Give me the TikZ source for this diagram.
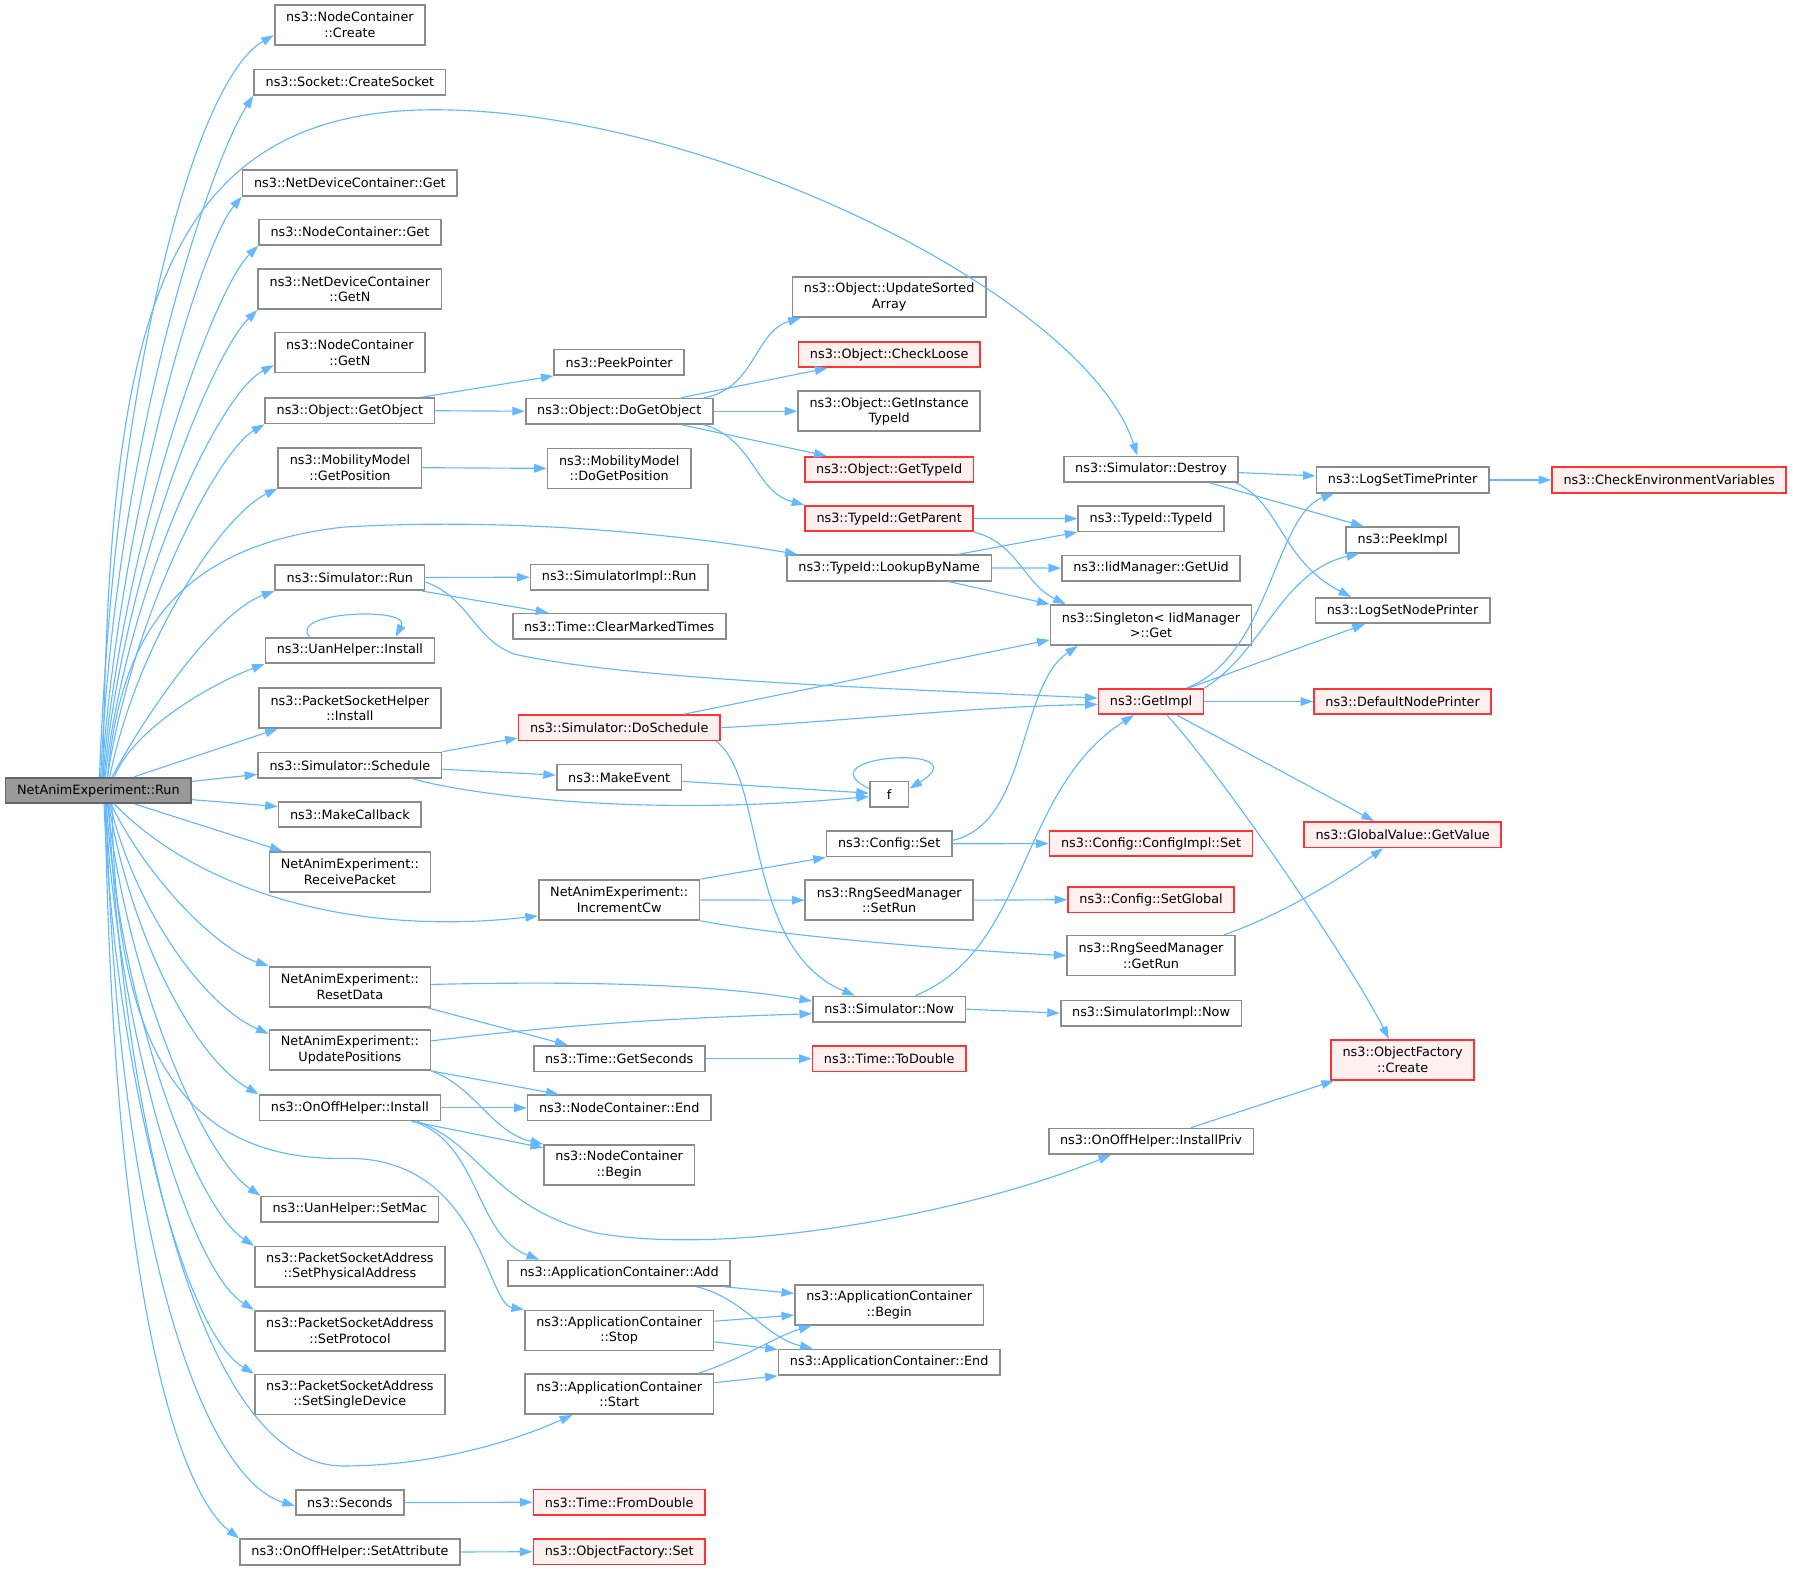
\documentclass[tikz,border=0pt]{standalone}
\usepackage{fontspec}
\setmainfont{DejaVu Sans}
\usetikzlibrary{arrows.meta}
\definecolor{edgeblue}{HTML}{63B8FF}
\definecolor{boxgray}{HTML}{8C8C8C}
\definecolor{rootgray}{HTML}{999999}
\definecolor{rootedge}{HTML}{666666}
\definecolor{missred}{HTML}{FF3333}
\definecolor{misspink}{HTML}{FFF0F0}
\begin{document}
\begin{tikzpicture}[x=1pt, y=-1pt,
        fn/.style={draw=boxgray, fill=white, line width=1.45pt, font=\fontsize{11.2}{13.5}\selectfont,
            inner xsep=10pt, inner ysep=0pt, minimum height=22.3pt, align=center},
        two/.style={minimum height=35pt},
        miss/.style={draw=missred, fill=misspink},
        root/.style={draw=rootedge, fill=rootgray},
        call/.style={draw=edgeblue, line width=1pt, -{Triangle[length=11pt, width=7.5pt]}}]
        \useasboundingbox (0,0) rectangle (1568,1373);
        \node[fn, root] (run) at (86,691.3) {NetAnimExperiment::Run};
        \node[fn, two] (create) at (306,21.8) {ns3::NodeContainer\\::Create};
        \node[fn] (socket) at (306,71.8) {ns3::Socket::CreateSocket};
        \node[fn] (ndcget) at (306,160) {ns3::NetDeviceContainer::Get};
        \node[fn] (ncget) at (306,203) {ns3::NodeContainer::Get};
        \node[fn, two] (ndcgetn) at (306,252.9) {ns3::NetDeviceContainer\\::GetN};
        \node[fn, two] (ncgetn) at (306,308.3) {ns3::NodeContainer\\::GetN};
        \node[fn] (getobject) at (306,359.2) {ns3::Object::GetObject};
        \node[fn, two] (getpos) at (306,409) {ns3::MobilityModel\\::GetPosition};
        \node[fn] (simrun) at (306,505) {ns3::Simulator::Run};
        \node[fn] (uaninst) at (306,568.8) {ns3::UanHelper::Install};
        \node[fn, two] (psinst) at (306,619.1) {ns3::PacketSocketHelper\\::Install};
        \node[fn] (schedule) at (306,669.2) {ns3::Simulator::Schedule};
        \node[fn] (makecb) at (306,712.3) {ns3::MakeCallback};
        \node[fn, two] (recv) at (306,762.5) {NetAnimExperiment::\\ReceivePacket};
        \node[fn, two] (reset) at (306,862.9) {NetAnimExperiment::\\ResetData};
        \node[fn, two] (update) at (306,918.3) {NetAnimExperiment::\\UpdatePositions};
        \node[fn] (onoffinst) at (306,968.8) {ns3::OnOffHelper::Install};
        \node[fn] (setmac) at (306,1057.5) {ns3::UanHelper::SetMac};
        \node[fn, two] (setphys) at (306,1107.7) {ns3::PacketSocketAddress\\::SetPhysicalAddress};
        \node[fn, two] (setproto) at (306,1163.7) {ns3::PacketSocketAddress\\::SetProtocol};
        \node[fn, two] (setsingle) at (306,1219.4) {ns3::PacketSocketAddress\\::SetSingleDevice};
        \node[fn] (seconds) at (306,1314) {ns3::Seconds};
        \node[fn] (setattr) at (306,1357.2) {ns3::OnOffHelper::SetAttribute};
        \node[fn] (peekptr) at (541.5,316.9) {ns3::PeekPointer};
        \node[fn] (dogetobj) at (541.5,359.6) {ns3::Object::DoGetObject};
        \node[fn, two] (dogetpos) at (541.5,409.6) {ns3::MobilityModel\\::DoGetPosition};
        \node[fn] (simimplrun) at (541.5,504.8) {ns3::SimulatorImpl::Run};
        \node[fn] (clearmarked) at (541.5,547.7) {ns3::Time::ClearMarkedTimes};
        \node[fn, miss] (doschedule) at (541.5,636.4) {ns3::Simulator::DoSchedule};
        \node[fn] (makeevent) at (541.5,679.8) {ns3::MakeEvent};
        \node[fn, two] (incrcw) at (541.5,787) {NetAnimExperiment::\\IncrementCw};
        \node[fn] (getseconds) at (541.5,925.8) {ns3::Time::GetSeconds};
        \node[fn] (ncend) at (541.5,968.8) {ns3::NodeContainer::End};
        \node[fn, two] (ncbegin) at (541.5,1018.9) {ns3::NodeContainer\\::Begin};
        \node[fn] (acadd) at (541.5,1113.4) {ns3::ApplicationContainer::Add};
        \node[fn, two] (acstop) at (541.5,1163.4) {ns3::ApplicationContainer\\::Stop};
        \node[fn, two] (acstart) at (541.5,1219.2) {ns3::ApplicationContainer\\::Start};
        \node[fn, miss] (fromdouble) at (541.5,1313.7) {ns3::Time::FromDouble};
        \node[fn, miss] (ofset) at (541.5,1357) {ns3::ObjectFactory::Set};
        \node[fn, two] (updsorted) at (777.6,259.7) {ns3::Object::UpdateSorted\\Array};
        \node[fn, miss] (checkloose) at (777.6,310) {ns3::Object::CheckLoose};
        \node[fn, two] (getinsttid) at (777.6,359.6) {ns3::Object::GetInstance\\TypeId};
        \node[fn, miss] (gettypeid) at (777.6,410.6) {ns3::Object::GetTypeId};
        \node[fn, miss] (getparent) at (777.6,453.4) {ns3::TypeId::GetParent};
        \node[fn] (lookup) at (777.6,496.7) {ns3::TypeId::LookupByName};
        \node[fn, minimum width=34pt] (f) at (777.6,694.6) {f};
        \node[fn] (cfgset) at (777.6,737.9) {ns3::Config::Set};
        \node[fn, two] (setrun) at (777.6,787.2) {ns3::RngSeedManager\\::SetRun};
        \node[fn] (simnow) at (777.6,882.5) {ns3::Simulator::Now};
        \node[fn, miss] (todouble) at (777.6,925.8) {ns3::Time::ToDouble};
        \node[fn, two] (acbegin) at (777.6,1141.1) {ns3::ApplicationContainer\\::Begin};
        \node[fn] (acend) at (777.6,1191.2) {ns3::ApplicationContainer::End};
        \node[fn] (destroy) at (1006.6,410.3) {ns3::Simulator::Destroy};
        \node[fn] (typeidctor) at (1006.6,453.5) {ns3::TypeId::TypeId};
        \node[fn] (getuid) at (1006.6,496.8) {ns3::IidManager::GetUid};
        \node[fn, two] (singleton) at (1006.6,546.6) {ns3::Singleton< IidManager\\>::Get};
        \node[fn, miss] (getimpl) at (1006.6,613.5) {ns3::GetImpl};
        \node[fn, miss] (cfgimplset) at (1006.6,737.7) {ns3::Config::ConfigImpl::Set};
        \node[fn, miss] (setglobal) at (1006.6,786.8) {ns3::Config::SetGlobal};
        \node[fn, two] (getrun) at (1006.6,835.7) {ns3::RngSeedManager\\::GetRun};
        \node[fn] (simimplnow) at (1006.6,886) {ns3::SimulatorImpl::Now};
        \node[fn] (installpriv) at (1006.6,998) {ns3::OnOffHelper::InstallPriv};
        \node[fn] (logtime) at (1226.6,419.7) {ns3::LogSetTimePrinter};
        \node[fn] (peekimpl) at (1226.6,472.2) {ns3::PeekImpl};
        \node[fn] (lognode) at (1226.6,533.9) {ns3::LogSetNodePrinter};
        \node[fn, miss] (defnode) at (1226.6,613.5) {ns3::DefaultNodePrinter};
        \node[fn, miss] (getvalue) at (1226.6,729.9) {ns3::GlobalValue::GetValue};
        \node[fn, two, miss] (ofcreate) at (1226.6,926.8) {ns3::ObjectFactory\\::Create};
        \node[fn, miss] (checkenv) at (1459.7,419.7) {ns3::CheckEnvironmentVariables};

        \draw[call] ([xshift=1pt]run.north) .. controls (100,330) and (170,70) .. ([yshift=-9pt]create.west);
        \draw[call] ([xshift=2pt]run.north) .. controls (102,380) and (185,140) .. (socket.south west);
        \draw[call] ([xshift=4pt]run.north) .. controls (95,300) and (130,96) .. (380,96)
            .. controls (620,96) and (950,260) .. ([xshift=-12pt]destroy.north);
        \draw[call] ([xshift=3pt]run.north) .. controls (105,450) and (175,215) .. (ndcget.south west);
        \draw[call] ([xshift=4pt]run.north) .. controls (106,480) and (185,255) .. (ncget.south west);
        \draw[call] ([xshift=5pt]run.north) .. controls (108,500) and (185,310) .. (ndcgetn.south west);
        \draw[call] ([xshift=6pt]run.north) .. controls (110,520) and (190,345) .. ([yshift=-11pt]ncgetn.west);
        \draw[call] ([xshift=8pt]run.north) .. controls (115,540) and (190,395) .. (getobject.south west);
        \draw[call] ([xshift=10pt]run.north) .. controls (120,560) and (195,450) .. (getpos.south west);
        \draw[call] ([xshift=8pt]run.north) .. controls (105,560) and (150,478) .. (300,461)
            .. controls (450,452) and (600,468) .. ([xshift=10pt]lookup.north west);
        \draw[call] ([xshift=12pt]run.north) .. controls (130,620) and (190,535) .. (simrun.south west);
        \draw[call] ([xshift=14pt]run.north) .. controls (115,640) and (180,600) .. (uaninst.south west);
        \draw[call] ([xshift=31pt]run.north) -- ([xshift=17pt]psinst.south west);
        \draw[call] ([yshift=8pt]run.east) -- ([yshift=-8pt]schedule.west);
        \draw[call] ([yshift=-8pt]run.east) -- ([yshift=7pt]makecb.west);
        \draw[call] ([xshift=32pt]run.south) -- ([xshift=12pt]recv.north west);
        \draw[call] ([xshift=14pt]run.south) .. controls (170,775) and (300,820) .. ([yshift=-14pt]incrcw.west);
        \draw[call] ([xshift=11pt]run.south) .. controls (130,770) and (190,830) .. (reset.north west);
        \draw[call] ([xshift=10pt]run.south) .. controls (120,800) and (180,880) .. ([yshift=-4pt]update.north west);
        \draw[call] ([xshift=9pt]run.south) .. controls (115,820) and (170,925) .. (onoffinst.north west);
        \draw[call] ([xshift=8pt]run.south) .. controls (110,850) and (175,1010) .. (setmac.north west);
        \draw[call] ([xshift=7pt]run.south) .. controls (105,880) and (170,1055) .. (setphys.north west);
        \draw[call] ([xshift=6pt]run.south) .. controls (103,900) and (165,1110) .. (setproto.north west);
        \draw[call] ([xshift=5pt]run.south) .. controls (100,930) and (160,1165) .. (setsingle.north west);
        \draw[call] ([xshift=12pt]run.south) .. controls (100,900) and (150,1015) .. (300,1013)
            .. controls (420,1010) and (425,1140) .. (acstop.north west);
        \draw[call] ([xshift=9pt]run.south) .. controls (110,1000) and (180,1282) .. (300,1282)
            .. controls (380,1282) and (450,1260) .. ([xshift=-41pt]acstart.south);
        \draw[call] ([xshift=7pt]run.south) .. controls (100,1050) and (170,1290) .. ([yshift=-3pt]seconds.west);
        \draw[call] ([xshift=6pt]run.south) .. controls (98,1100) and (150,1300) .. (setattr.north west);

        \draw[call] ([xshift=-12pt]getobject.north east) -- (peekptr.south west);
        \draw[call] (getobject.east) -- (dogetobj.west);
        \draw[call] ([xshift=-8pt]dogetobj.north east) .. controls (660,340) and (660,290) .. ([xshift=8pt]updsorted.south west);
        \draw[call] ([xshift=-28pt]dogetobj.north east) -- ([xshift=26pt]checkloose.south west);
        \draw[call] (dogetobj.east) -- (getinsttid.west);
        \draw[call] ([xshift=-28pt]dogetobj.south east) -- ([xshift=20pt]gettypeid.north west);
        \draw[call] ([xshift=-8pt]dogetobj.south east) .. controls (660,385) and (660,430) .. (getparent.north west);
        \draw[call] (getpos.east) -- (dogetpos.west);
        \draw[call] (simrun.east) -- (simimplrun.west);
        \draw[call] ([xshift=-3pt]simrun.south east) -- ([xshift=-62pt]clearmarked.north);
        \draw[call] ([yshift=-4pt]simrun.east) .. controls (410,522) and (415,560) .. (450,572)
            .. controls (550,595) and (800,603) .. ([yshift=3pt]getimpl.west);
        \draw[call] ([xshift=-35pt]uaninst.north) .. controls (250,535) and (360,530) .. ([xshift=40pt]uaninst.north);
        \draw[call] (schedule.north east) -- ([yshift=-9pt]doschedule.west);
        \draw[call] ([yshift=-3.5pt]schedule.east) -- ([yshift=2pt]makeevent.west);
        \draw[call] ([xshift=-26pt]schedule.south east) .. controls (410,695) and (560,715) .. ([yshift=-2pt]f.west);
        \draw[call] ([yshift=-3.5pt]makeevent.east) -- ([yshift=1pt]f.west);
        \draw[call] ([yshift=5pt]f.west) .. controls (700,660) and (860,650) .. ([yshift=5pt]f.east);
        \draw[call] ([xshift=-32pt]doschedule.north east) -- ([yshift=-13pt]singleton.west);
        \draw[call] (doschedule.east) .. controls (750,630) and (850,618) .. ([yshift=-2.5pt]getimpl.west);
        \draw[call] ([xshift=-4pt]doschedule.south east) .. controls (670,680) and (650,830) .. ([xshift=-30pt]simnow.north);
        \draw[call] (getparent.east) -- (typeidctor.west);
        \draw[call] (getparent.south east) .. controls (890,475) and (895,510) .. ([xshift=14pt]singleton.north west);
        \draw[call] ([xshift=-30pt]lookup.north east) -- (typeidctor.south west);
        \draw[call] (lookup.east) -- (getuid.west);
        \draw[call] ([xshift=-38pt]lookup.south east) -- (singleton.north west);
        \draw[call] ([yshift=-3pt]destroy.east) -- ([yshift=3.5pt]logtime.west);
        \draw[call] ([xshift=51pt]destroy.south) -- ([xshift=-34pt]peekimpl.north);
        \draw[call] ([xshift=-3pt]destroy.south east) .. controls (1120,440) and (1120,490) .. ([xshift=-45pt]lognode.north);
        \draw[call] (logtime.east) -- (checkenv.west);
        \draw[call] ([xshift=31pt]getimpl.north) .. controls (1110,575) and (1115,450) .. ([xshift=-60pt]logtime.south);
        \draw[call] (getimpl.north east) .. controls (1105,570) and (1120,500) .. ([xshift=-38pt]peekimpl.south);
        \draw[call] ([xshift=33pt]getimpl.north) -- ([xshift=-33pt]lognode.south);
        \draw[call] (getimpl.east) -- (defnode.west);
        \draw[call] ([xshift=22.6pt]getimpl.south) -- ([xshift=-25pt]getvalue.north);
        \draw[call] ([xshift=14pt]getimpl.south) .. controls (1070,680) and (1180,840) .. ([xshift=-12pt]ofcreate.north);
        \draw[call] ([yshift=3pt]cfgset.east) .. controls (900,720) and (890,600) .. ([xshift=-64pt]singleton.south);
        \draw[call] (cfgset.east) -- (cfgimplset.west);
        \draw[call] (incrcw.north east) -- (cfgset.south west);
        \draw[call] (incrcw.east) -- (setrun.west);
        \draw[call] (incrcw.south east) .. controls (680,818) and (820,830) .. (getrun.west);
        \draw[call] (setrun.east) -- (setglobal.west);
        \draw[call] ([xshift=-10pt]getrun.north east) .. controls (1120,800) and (1170,770) .. ([xshift=-17pt]getvalue.south);
        \draw[call] ([xshift=23pt]simnow.north) .. controls (900,830) and (890,690) .. ([xshift=-15pt]getimpl.south);
        \draw[call] (simnow.east) -- (simimplnow.west);
        \draw[call] ([yshift=2pt]reset.east) .. controls (500,858) and (620,860) .. ([yshift=7pt]simnow.west);
        \draw[call] ([xshift=-4pt]reset.south east) -- ([xshift=-45pt]getseconds.north);
        \draw[call] ([yshift=8pt]update.east) .. controls (500,895) and (600,890) .. ([yshift=-4pt]simnow.west);
        \draw[call] (update.south east) -- ([xshift=-53pt]ncend.north);
        \draw[call] (update.south east) .. controls (415,950) and (430,990) .. (ncbegin.north west);
        \draw[call] (getseconds.east) -- (todouble.west);
        \draw[call] (onoffinst.east) -- (ncend.west);
        \draw[call] ([xshift=-26pt]onoffinst.south east) -- ([yshift=-3pt]ncbegin.north west);
        \draw[call] ([xshift=-21pt]onoffinst.south east) .. controls (420,1000) and (430,1055) .. (520,1078)
            .. controls (640,1100) and (850,1060) .. ([xshift=-35pt]installpriv.south);
        \draw[call] ([xshift=-24pt]onoffinst.south east) .. controls (420,1000) and (415,1080) .. ([xshift=-70pt]acadd.north);
        \draw[call] ([xshift=35pt]installpriv.north) -- ([xshift=-60pt]ofcreate.south);
        \draw[call] ([xshift=-6pt]acadd.south east) -- ([yshift=10pt]acbegin.west);
        \draw[call] ([xshift=-30pt]acadd.south east) .. controls (650,1135) and (670,1170) .. ([xshift=-67pt]acend.north);
        \draw[call] ([yshift=8pt]acstop.east) -- ([yshift=-9pt]acbegin.west);
        \draw[call] ([yshift=-10pt]acstop.east) -- ([yshift=11pt]acend.west);
        \draw[call] ([xshift=-14pt]acstart.north east) .. controls (650,1188) and (680,1168) .. ([xshift=-68pt]acbegin.south);
        \draw[call] ([yshift=10pt]acstart.east) -- ([yshift=-12pt]acend.west);
        \draw[call] (seconds.east) -- (fromdouble.west);
        \draw[call] (setattr.east) -- (ofset.west);
    \end{tikzpicture}
\end{document}
